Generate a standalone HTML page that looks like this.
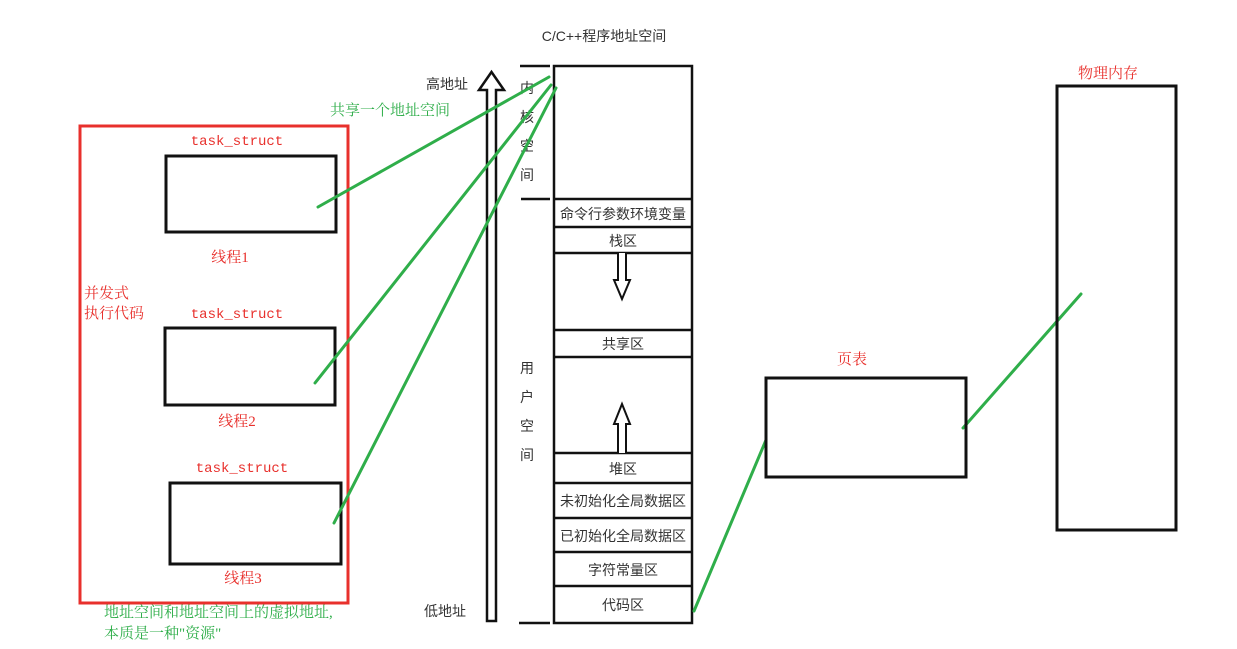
<!DOCTYPE html>
<html><head><meta charset="utf-8"><style>
html,body{margin:0;padding:0;background:#fff;}
svg{display:block;}
.s{font-family:"Liberation Sans","Noto Sans CJK SC",sans-serif;font-size:14px;fill:#333;}
.r{font-family:"Liberation Serif","Noto Serif CJK SC",serif;font-size:15px;fill:#e8302c;}
.g{font-family:"Liberation Serif","Noto Serif CJK SC",serif;font-size:15px;fill:#2fae4a;}
.m{font-family:"Liberation Mono",monospace;font-size:14px;fill:#e8302c;}
</style></head><body>
<svg width="1237" height="649" viewBox="0 0 1237 649" xmlns="http://www.w3.org/2000/svg">
<text class="s" x="604" y="41" text-anchor="middle">C/C++程序地址空间</text>
<text class="s" x="447" y="89" text-anchor="middle">高地址</text>
<text class="s" x="445" y="616" text-anchor="middle">低地址</text>
<path d="M487,621 L487,90 L479,90 L491.5,72 L504,90 L496,90 L496,621 Z" fill="#fff" stroke="#111" stroke-width="2.5"/>
<g stroke="#111" stroke-width="2.5">
<line x1="520" y1="66" x2="550" y2="66"/>
<line x1="521" y1="199" x2="550" y2="199"/>
<line x1="519" y1="623" x2="550" y2="623"/>
</g>
<g class="s" text-anchor="middle">
<text x="527" y="93">内</text><text x="527" y="122">核</text><text x="527" y="151">空</text><text x="527" y="180">间</text>
<text x="527" y="373">用</text><text x="527" y="402">户</text><text x="527" y="431">空</text><text x="527" y="460">间</text>
</g>
<rect x="554" y="66" width="138" height="557" fill="#fff" stroke="#111" stroke-width="2.5"/>
<g stroke="#111" stroke-width="2.5">
<line x1="554" y1="199" x2="692" y2="199"/>
<line x1="554" y1="227" x2="692" y2="227"/>
<line x1="554" y1="253" x2="692" y2="253"/>
<line x1="554" y1="330" x2="692" y2="330"/>
<line x1="554" y1="357" x2="692" y2="357"/>
<line x1="554" y1="453" x2="692" y2="453"/>
<line x1="554" y1="483" x2="692" y2="483"/>
<line x1="554" y1="518" x2="692" y2="518"/>
<line x1="554" y1="552" x2="692" y2="552"/>
<line x1="554" y1="586" x2="692" y2="586"/>
</g>
<g class="s" text-anchor="middle">
<text x="623" y="219">命令行参数环境变量</text>
<text x="623" y="246">栈区</text>
<text x="623" y="349">共享区</text>
<text x="623" y="474">堆区</text>
<text x="623" y="506">未初始化全局数据区</text>
<text x="623" y="541">已初始化全局数据区</text>
<text x="623" y="575">字符常量区</text>
<text x="623" y="610">代码区</text>
</g>
<path d="M618,253 L618,280 L614,280 L622,299 L630,280 L626,280 L626,253" fill="#fff" stroke="#111" stroke-width="2"/>
<path d="M618,453 L618,424 L614,424 L622,404 L630,424 L626,424 L626,453" fill="#fff" stroke="#111" stroke-width="2"/>
<rect x="80" y="126" width="268" height="477" fill="none" stroke="#e8302c" stroke-width="3"/>
<g fill="none" stroke="#111" stroke-width="3">
<rect x="166" y="156" width="170" height="76"/>
<rect x="165" y="328" width="170" height="77"/>
<rect x="170" y="483" width="171" height="81"/>
</g>
<text class="m" x="237" y="145" text-anchor="middle">task_struct</text>
<text class="m" x="237" y="318" text-anchor="middle">task_struct</text>
<text class="m" x="242" y="472" text-anchor="middle">task_struct</text>
<text class="r" x="230" y="262" text-anchor="middle">线程1</text>
<text class="r" x="237" y="426" text-anchor="middle">线程2</text>
<text class="r" x="243" y="583" text-anchor="middle">线程3</text>
<text class="r" x="84" y="298">并发式</text>
<text class="r" x="84" y="318">执行代码</text>
<text class="g" x="330" y="115">共享一个地址空间</text>
<text class="g" x="104" y="617">地址空间和地址空间上的虚拟地址,</text>
<text class="g" x="104" y="638">本质是一种"资源"</text>
<g stroke="#2fae4a" stroke-width="3" stroke-linecap="round">
<line x1="318" y1="207" x2="549" y2="77"/>
<line x1="315" y1="383" x2="551" y2="85"/>
<line x1="334" y1="523" x2="556" y2="88"/>
<line x1="694" y1="611" x2="766" y2="440"/>
<line x1="963" y1="428" x2="1081" y2="294"/>
</g>
<rect x="766" y="378" width="200" height="99" fill="none" stroke="#111" stroke-width="3"/>
<text class="r" x="852" y="364" text-anchor="middle">页表</text>
<rect x="1057" y="86" width="119" height="444" fill="none" stroke="#111" stroke-width="3"/>
<text class="r" x="1108" y="78" text-anchor="middle">物理内存</text>
</svg>
</body></html>
